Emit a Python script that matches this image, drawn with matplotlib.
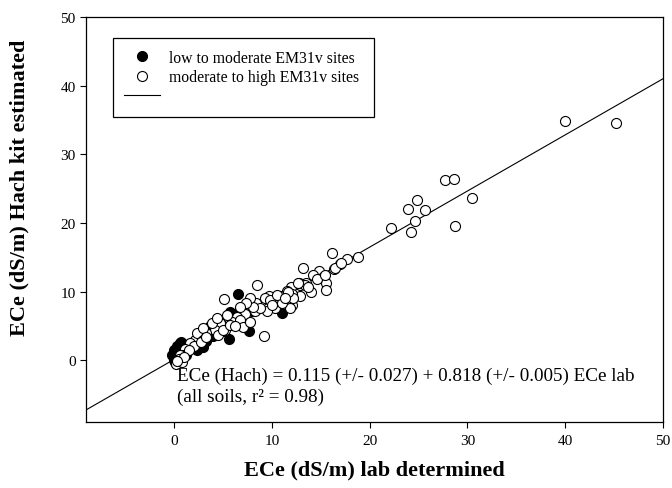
import matplotlib
matplotlib.use("Agg")
import matplotlib.pyplot as plt
from matplotlib.lines import Line2D
import numpy as np

plt.rcParams['font.family'] = ['Liberation Serif', 'DejaVu Serif']

# low to moderate EM31v sites (filled)
low_x = [0.0, 0.1, 0.2, 0.1, 0.3, 0.4, 0.0, 0.2, 0.5, 0.3, 0.6, 0.6, 0.3, 0.9,
         0.0, -0.2, 0.8, 0.7, 1.5, 2.0, 2.3, 2.8, 3.3, 3.7, 4.0, 4.4, 5.0, 5.6,
         5.7, 6.1, 6.5, 7.7, 7.0, 8.0, 11.0, 3.0, 4.8, 6.0, 2.5, 1.2]
low_y = [0.0, 0.3, 0.5, -0.2, 0.8, 0.1, 0.6, 1.0, 0.4, -0.3, 1.3, 2.5, 2.0, 2.3,
         1.5, 0.8, 0.9, 2.6, 1.8, 2.5, 1.5, 3.6, 2.8, 5.0, 3.5, 4.5, 4.2, 3.1,
         7.0, 6.8, 9.6, 4.3, 5.2, 7.2, 6.9, 1.9, 5.3, 5.5, 3.0, 0.7]

# moderate to high EM31v sites (open)
high_x = [40.0, 45.2, 27.7, 28.6, 30.5, 24.8, 23.9, 25.7, 24.6, 22.2, 24.2, 28.7,
          16.2, 18.8, 17.7, 17.0, 16.4, 13.2, 14.8, 14.2, 15.2, 15.5, 13.5, 15.5,
          14.0, 12.9, 16.5, 17.1, 12.8, 13.4, 12.0, 12.9, 12.1, 11.6, 8.5, 10.8,
          9.7, 11.8, 12.1, 8.4, 9.6, 10.3, 11.9, 8.3, 9.5, 9.2, 5.1, 9.3, 11.0,
          9.8, 12.2, 11.7, 12.7, 13.7, 14.6, 15.4, 8.8, 8.1, 7.3, 6.4, 5.9, 6.7,
          4.7, 5.2, 4.2, 3.3, 2.7, 2.1, 1.6, 1.1, 0.8, 2.3, 3.0, 3.9, 4.4, 5.4,
          7.8, 7.4, 6.7, 10.5, 11.3, 3.0, 2.0, 1.5, 0.6, 2.8, 3.3, 4.5, 5.0, 5.7,
          7.1, 7.8, 0.4, 0.2, 0.5, 0.8, 1.0, 0.3, 10.0, 6.2]
high_y = [34.9, 34.5, 26.2, 26.4, 23.6, 23.4, 22.1, 21.9, 20.3, 19.3, 18.75, 19.5,
          15.6, 15.0, 14.7, 14.0, 13.3, 13.5, 13.0, 12.4, 12.1, 11.3, 11.3, 10.2,
          10.0, 10.9, 13.4, 14.2, 11.3, 10.9, 10.7, 9.3, 9.7, 10.1, 10.9, 9.3,
          9.3, 8.9, 8.1, 8.4, 7.6, 7.6, 7.6, 7.1, 7.1, 3.6, 8.9, 9.1, 8.3,
          8.8, 9.0, 10.0, 11.2, 10.7, 11.9, 12.4, 7.6, 7.8, 6.8, 6.3, 5.6, 5.9,
          5.4, 4.4, 4.4, 3.9, 3.4, 2.95, 2.5, 1.7, 0.8, 3.9, 4.7, 5.4, 6.1, 6.6,
          9.0, 8.3, 7.8, 9.5, 9.0, 2.95, 2.0, 1.5, 0.8, 2.7, 3.4, 3.7, 4.4, 5.1,
          4.9, 5.6, 0.0, -0.5, 0.2, -0.3, 0.5, -0.1, 8.0, 5.0]

intercept = 0.115
slope = 0.818
ticks = [0, 10, 20, 30, 40, 50]


def main():
    fig = plt.figure(figsize=(6.72, 4.89), dpi=100)
    ax = fig.add_axes([0.128, 0.135, 0.8586, 0.828])

    xl = np.array([-9, 50])
    ax.plot(xl, intercept + slope * xl, color='black', lw=0.8, zorder=1)
    ax.scatter(low_x, low_y, s=52, c='black', edgecolors='black',
               linewidths=0.8, zorder=2)
    ax.scatter(high_x, high_y, s=52, c='white', edgecolors='black',
               linewidths=0.8, zorder=3)

    ax.set_xlim(-9, 50)
    ax.set_ylim(-9, 50)
    ax.set_xticks(ticks)
    ax.set_yticks(ticks)
    ax.tick_params(direction='out', length=4, width=0.8, labelsize=11,
                   top=False, right=False)
    ax.tick_params(axis='x', pad=5)
    for sp in ax.spines.values():
        sp.set_linewidth(0.9)

    # legend
    h1 = Line2D([], [], marker='o', ls='none', mfc='black', mec='black', ms=7.2, mew=0.8)
    h2 = Line2D([], [], marker='o', ls='none', mfc='white', mec='black', ms=7.2, mew=0.8)
    h3 = Line2D([], [], color='black', lw=0.8)
    leg = ax.legend([h1, h2, h3],
                    ['low to moderate EM31v sites', 'moderate to high EM31v sites', ' '],
                    loc='upper left', bbox_to_anchor=(0.046, 0.758, 0.453, 0.19),
                    mode='expand', borderaxespad=0, fontsize=11.3, frameon=True,
                    fancybox=False, edgecolor='black', framealpha=1,
                    handlelength=2.3, handletextpad=0.55, labelspacing=0.22,
                    borderpad=0.75)
    leg.get_frame().set_linewidth(0.9)

    ax.text(0.3, -2.2, 'ECe (Hach) = 0.115 (+/- 0.027) + 0.818 (+/- 0.005) ECe lab',
            fontsize=13.8, va='center', ha='left')
    ax.text(0.3, -5.3, '(all soils, r\u00b2 = 0.98)', fontsize=13.8, va='center', ha='left')

    fig.text(374 / 672, 1 - 470 / 489, 'ECe (dS/m) lab determined', fontsize=16,
             fontweight='bold', ha='center', va='center')
    fig.text(19 / 672, 1 - 188 / 489, 'ECe (dS/m) Hach kit estimated', fontsize=16,
             fontweight='bold', ha='center', va='center', rotation=90)

    fig.savefig('out.png', dpi=100)


if __name__ == "__main__":
    main()
